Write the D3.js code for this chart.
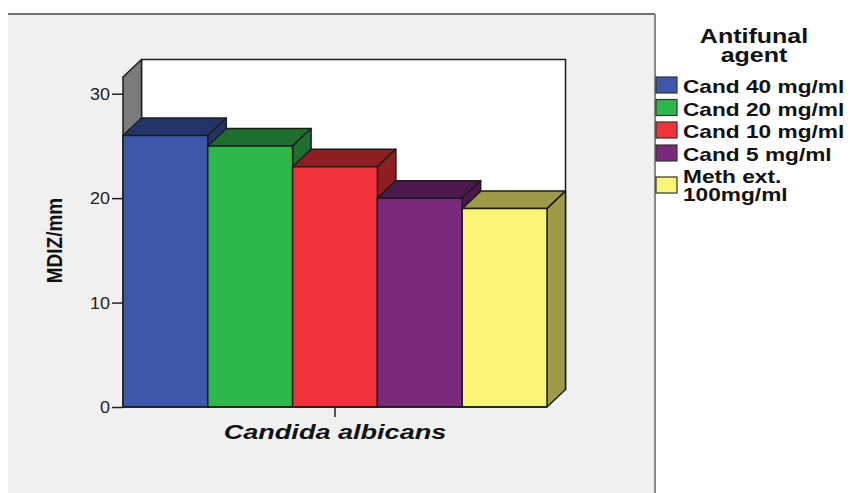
<!DOCTYPE html>
<html>
<head>
<meta charset="utf-8">
<script src="https://cdn.jsdelivr.net/npm/d3@7/dist/d3.min.js"></script>
<style>
  html, body { margin: 0; padding: 0; background: #ffffff; }
  svg { display: block; font-family: "Liberation Sans", Arial, sans-serif; }
</style>
</head>
<body>
<svg id="chart" width="850" height="493"></svg>
<script>
// Mean diameter of inhibition zone (mm) against Candida albicans
const category = "Candida albicans";
const agents = ["Cand 40 mg/ml", "Cand 20 mg/ml", "Cand 10 mg/ml", "Cand 5 mg/ml", "Meth ext. 100mg/ml"];
const legendLines = [["Cand 40 mg/ml"], ["Cand 20 mg/ml"], ["Cand 10 mg/ml"], ["Cand 5 mg/ml"], ["Meth ext.", "100mg/ml"]];
const values = [26, 25, 23, 20, 19];
const yTicks = [0, 10, 20, 30];
const frontColors = ["#3d58aa", "#2eb84b", "#f0333a", "#7b297d", "#fbf574"];
const shadeColors = ["#233468", "#1e6f2f", "#8f1e23", "#4d184d", "#9e9a48"];

const svg = d3.select("#chart");

// grey chart panel
const panel = { left: 8, top: 14, right: 655, bottom: 493 };
svg.append("rect")
  .attr("x", panel.left).attr("y", panel.top)
  .attr("width", panel.right - panel.left).attr("height", panel.bottom - panel.top)
  .attr("fill", "#f0f0f0");
svg.append("line")
  .attr("x1", panel.left).attr("x2", panel.right)
  .attr("y1", panel.top).attr("y2", panel.top)
  .attr("stroke", "#444").attr("stroke-width", 1.5);
svg.append("line")
  .attr("x1", panel.right).attr("x2", panel.right)
  .attr("y1", panel.top).attr("y2", panel.bottom)
  .attr("stroke", "#8a8a8a").attr("stroke-width", 2);

// plot geometry and 3D depth
const plot = { left: 123, right: 547, bottom: 407, top: 77 };
const depth = { dx: 18.5, dy: 17.5 };

const y = d3.scaleLinear().domain([0, 31.6]).range([plot.bottom, plot.top]);
const xCat = d3.scaleBand().domain([category]).range([plot.left, plot.right]);
const x = d3.scaleBand().domain(agents).range([xCat(category), xCat(category) + xCat.bandwidth()]).padding(0);

const outline = "#1c1c1c";

// back wall
svg.append("rect")
  .attr("x", plot.left + depth.dx).attr("y", plot.top - depth.dy)
  .attr("width", plot.right - plot.left).attr("height", plot.bottom - plot.top)
  .attr("fill", "#ffffff").attr("stroke", outline).attr("stroke-width", 1.5);

// left side wall
svg.append("polygon")
  .attr("points", [
    [plot.left, plot.top],
    [plot.left + depth.dx, plot.top - depth.dy],
    [plot.left + depth.dx, plot.bottom - depth.dy],
    [plot.left, plot.bottom]
  ].map(p => p.join(",")).join(" "))
  .attr("fill", "#7b7b7b").attr("stroke", outline).attr("stroke-width", 1.5)
  .attr("stroke-linejoin", "round");

// 3D bars, drawn left to right so each one hides the previous side face
const bars = svg.append("g");
agents.forEach((a, i) => {
  const x0 = x(a), x1 = x(a) + x.bandwidth();
  const yt = y(values[i]), yb = y(0);
  const g = bars.append("g")
    .attr("stroke", outline).attr("stroke-width", 1.5).attr("stroke-linejoin", "round");
  // top face
  g.append("polygon")
    .attr("points", [[x0, yt], [x0 + depth.dx, yt - depth.dy], [x1 + depth.dx, yt - depth.dy], [x1, yt]]
      .map(p => p.join(",")).join(" "))
    .attr("fill", shadeColors[i]);
  // right side face
  g.append("polygon")
    .attr("points", [[x1, yt], [x1 + depth.dx, yt - depth.dy], [x1 + depth.dx, yb - depth.dy], [x1, yb]]
      .map(p => p.join(",")).join(" "))
    .attr("fill", shadeColors[i]);
  // front face
  g.append("rect")
    .attr("x", x0).attr("y", yt)
    .attr("width", x1 - x0).attr("height", yb - yt)
    .attr("fill", frontColors[i]);
});

// floor edge
svg.append("line")
  .attr("x1", plot.left).attr("x2", plot.right)
  .attr("y1", plot.bottom).attr("y2", plot.bottom)
  .attr("stroke", outline).attr("stroke-width", 1.5);

// horizontally stretched text helper
function stretched(parent, txt, px, py, sx, opts) {
  const t = parent.append("text")
    .attr("transform", `translate(${px},${py}) scale(${sx},1)` + (opts.rotate ? ` rotate(${opts.rotate})` : ""))
    .attr("text-anchor", opts.anchor || "start")
    .attr("font-size", opts.size)
    .attr("font-weight", opts.weight || "normal")
    .attr("font-style", opts.style || "normal")
    .attr("fill", opts.fill || "#111")
    .text(txt);
  if (opts.dy) t.attr("dy", opts.dy);
  return t;
}

// y axis
const yAxis = d3.axisLeft(y).tickValues(yTicks).tickSize(11).tickPadding(3).tickFormat(d3.format("d"));
const ya = svg.append("g").attr("transform", `translate(${plot.left},0)`).call(yAxis);
ya.select(".domain").remove();
ya.selectAll(".tick line").attr("stroke", "#222").attr("stroke-width", 1.5);
ya.selectAll(".tick text").remove();
ya.selectAll(".tick").each(function(d) {
  stretched(d3.select(this), d, -13, 0, 1.12, { anchor: "end", size: 16, dy: "0.36em", fill: "#222" });
});

// x axis (single category)
const xAxis = d3.axisBottom(xCat).tickSize(10).tickFormat("");
const xa = svg.append("g").attr("transform", `translate(0,${plot.bottom})`).call(xAxis);
xa.select(".domain").remove();
xa.selectAll(".tick line").attr("stroke", "#222").attr("stroke-width", 1.5);

// axis titles
stretched(svg, category, xCat(category) + xCat.bandwidth() / 2, 439, 1.29,
  { anchor: "middle", size: 21, weight: "bold", style: "italic" });
stretched(svg, "MDIZ/mm", 62, 240.5, 1.15,
  { anchor: "middle", size: 19, weight: "bold", rotate: -90 });

// legend
const legend = svg.append("g");
stretched(legend, "Antifunal", 754, 43, 1.22, { anchor: "middle", size: 20.5, weight: "bold" });
stretched(legend, "agent", 754, 61.5, 1.22, { anchor: "middle", size: 20.5, weight: "bold" });

const swatchTops = [77, 99.5, 122, 145, 177];
const labelBaselines = [[93], [116], [138], [161], [183, 200.5]];
agents.forEach((a, i) => {
  legend.append("rect")
    .attr("x", 656).attr("y", swatchTops[i])
    .attr("width", 21).attr("height", 16)
    .attr("fill", frontColors[i]).attr("stroke", "#333").attr("stroke-width", 1.2);
  legendLines[i].forEach((line, j) => {
    stretched(legend, line, 683, labelBaselines[i][j], 1.26, { size: 18, weight: "bold" });
  });
});
</script>
</body>
</html>
